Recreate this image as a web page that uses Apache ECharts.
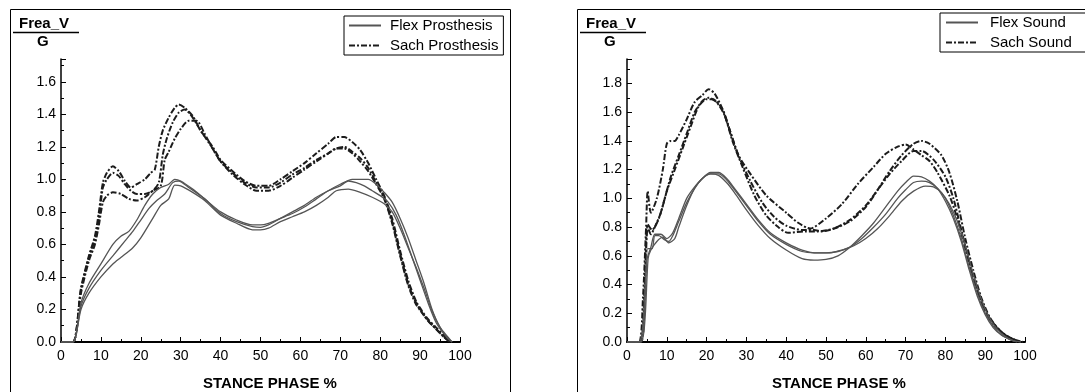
<!DOCTYPE html>
<html>
<head>
<meta charset="utf-8">
<script src="https://cdn.jsdelivr.net/npm/echarts@6/dist/echarts.min.js"></script>
<style>html,body{margin:0;padding:0;background:#fff}#c{width:1085px;height:392px}</style>
</head>
<body>
<div id="c"></div>
<script>
// ---- Data: [stance phase %, Frea_V / G] ----
const xTicks = [0,10,20,30,40,50,60,70,80,90,100];

const flexProsthesis1 = [[0,0],[3,0],[5,0.24],[7,0.36],[10,0.48],[13,0.6],[15,0.65],[17,0.68],[19,0.75],[21,0.84],[23,0.91],[25,0.95],[27,0.97],[28.5,1.0],[30,0.99],[33,0.94],[36,0.88],[40,0.8],[44,0.75],[48,0.72],[50,0.72],[52,0.73],[55,0.76],[58,0.79],[61,0.83],[64,0.88],[67,0.93],[70,0.97],[73,1.0],[75,1.0],[77,1.0],[79,0.97],[81,0.92],[83,0.86],[85,0.76],[87,0.64],[89,0.5],[91,0.36],[93,0.2],[95,0.09],[97,0.03],[98,0]];
const flexProsthesis2 = [[0,0],[3,0],[5,0.22],[7,0.33],[10,0.44],[13,0.53],[16,0.62],[18,0.68],[20,0.75],[22,0.82],[24,0.87],[26,0.91],[28,0.98],[29.5,0.99],[32,0.95],[36,0.88],[40,0.79],[44,0.74],[48,0.71],[50,0.705],[52,0.72],[55,0.76],[58,0.8],[61,0.84],[64,0.89],[67,0.93],[70,0.96],[72,0.99],[74,0.98],[76,0.96],[78,0.93],[80,0.9],[82,0.86],[84,0.78],[86,0.66],[88,0.52],[90,0.38],[92,0.24],[94,0.12],[96,0.05],[98,0]];
const flexProsthesis3 = [[0,0],[3,0],[5,0.2],[7,0.3],[10,0.4],[13,0.48],[15,0.52],[18,0.58],[20,0.64],[23,0.76],[25,0.84],[27,0.88],[28.5,0.965],[30,0.96],[33,0.92],[36,0.87],[40,0.78],[44,0.73],[48,0.69],[50,0.69],[52,0.7],[55,0.74],[58,0.77],[61,0.8],[64,0.84],[67,0.89],[69,0.93],[72,0.94],[75,0.92],[78,0.89],[81,0.85],[83,0.8],[85,0.7],[87,0.58],[89,0.46],[91,0.33],[93,0.19],[95,0.09],[97,0.02],[98,0]];

const sachProsthesis1 = [[0,0],[3,0],[5,0.33],[7,0.53],[8.5,0.65],[9.5,0.8],[10.5,0.98],[11.5,1.04],[13,1.08],[14.5,1.05],[16,0.99],[17.5,0.95],[19,0.97],[21,1.0],[22.5,1.04],[23.5,1.06],[24.5,1.2],[25.5,1.3],[27,1.38],[28.5,1.44],[29.5,1.46],[31,1.44],[33,1.39],[35,1.3],[38,1.2],[40,1.12],[43,1.05],[46,0.99],[49,0.96],[52,0.96],[55,1.0],[58,1.05],[61,1.1],[64,1.16],[67,1.22],[69,1.26],[71,1.26],[73,1.23],[75,1.18],[77,1.1],[79,1.0],[81,0.9],[83,0.76],[85,0.56],[87,0.38],[89,0.25],[90.5,0.19],[92,0.14],[94,0.09],[96,0.04],[97.5,0]];
const sachProsthesis2 = [[0,0],[3,0],[5,0.32],[7,0.52],[8.5,0.63],[9.5,0.76],[10.5,0.95],[11.5,1.0],[13,1.04],[14.5,1.02],[16,0.97],[17.5,0.93],[19,0.91],[21,0.91],[23,0.93],[24.5,0.98],[25.5,1.15],[26.5,1.25],[28,1.35],[29.5,1.41],[31,1.43],[33,1.38],[35,1.3],[38,1.19],[40,1.11],[43,1.04],[46,0.98],[49,0.95],[52,0.95],[55,0.98],[58,1.03],[61,1.07],[64,1.12],[67,1.16],[69,1.19],[71,1.2],[73,1.17],[75,1.13],[77,1.07],[79,0.98],[81,0.89],[83,0.74],[85,0.54],[87,0.36],[89,0.24],[90.5,0.18],[92,0.13],[94,0.08],[96,0.03],[97.5,0]];
const sachProsthesis3 = [[0,0],[3,0],[5,0.3],[7,0.5],[8.5,0.6],[9.5,0.72],[10.5,0.86],[11.5,0.9],[13,0.92],[15,0.91],[17,0.88],[19,0.87],[21,0.89],[23,0.93],[25,0.96],[26,1.12],[27,1.17],[28.5,1.25],[30,1.31],[32,1.36],[34,1.36],[36,1.28],[38,1.19],[40,1.11],[43,1.03],[46,0.97],[49,0.93],[52,0.93],[55,0.96],[58,1.01],[61,1.06],[64,1.11],[67,1.16],[69,1.19],[71,1.19],[73,1.16],[75,1.11],[77,1.05],[79,0.97],[81,0.88],[83,0.73],[85,0.53],[87,0.35],[89,0.23],[90.5,0.18],[92,0.13],[94,0.08],[96,0.03],[97.5,0]];

const flexSound1 = [[0,0],[3,0],[4,0.12],[5,0.57],[6,0.66],[7,0.75],[8.5,0.75],[10,0.72],[11.5,0.76],[13,0.86],[15,1.0],[17,1.08],[19,1.14],[21,1.17],[23,1.16],[25,1.11],[27,1.04],[30,0.92],[33,0.81],[36,0.72],[40,0.64],[44,0.58],[47,0.57],[50,0.575],[53,0.6],[56,0.66],[59,0.74],[62,0.83],[65,0.94],[68,1.05],[70,1.11],[72,1.155],[74,1.15],[76,1.12],[78,1.07],[80,0.98],[82,0.86],[84,0.7],[86,0.5],[88,0.32],[90,0.19],[92,0.1],[94,0.05],[96,0.02],[98,0]];
const flexSound2 = [[0,0],[3.3,0],[4.3,0.15],[5.2,0.65],[6.3,0.65],[7,0.74],[8,0.74],[9.5,0.71],[10.5,0.7],[11.5,0.74],[13,0.84],[15,0.97],[17,1.07],[19,1.14],[21,1.17],[23,1.17],[25,1.13],[27,1.06],[30,0.95],[33,0.84],[36,0.75],[40,0.68],[44,0.63],[47,0.62],[50,0.62],[53,0.63],[56,0.66],[59,0.72],[62,0.8],[65,0.89],[68,1.0],[70,1.06],[72,1.11],[74,1.12],[76,1.11],[78,1.07],[80,1.0],[82,0.88],[84,0.72],[86,0.52],[88,0.34],[90,0.2],[92,0.11],[94,0.05],[96,0.02],[98,0]];
const flexSound3 = [[0,0],[3.5,0],[4.5,0.15],[5.3,0.58],[6,0.64],[7.5,0.7],[9,0.73],[10.5,0.69],[12,0.72],[13,0.8],[15,0.95],[17,1.07],[19,1.14],[21,1.18],[23,1.18],[25,1.14],[27,1.07],[30,0.96],[33,0.85],[36,0.76],[40,0.69],[44,0.64],[48,0.62],[51,0.62],[54,0.64],[57,0.67],[60,0.72],[63,0.79],[66,0.88],[69,0.98],[72,1.05],[75,1.085],[77,1.08],[79,1.04],[81,0.96],[83,0.84],[85,0.67],[87,0.47],[89,0.3],[91,0.17],[93,0.09],[95,0.04],[97,0.01],[99,0]];

const sachSound1 = [[0,0],[3,0],[4,0.3],[4.8,0.8],[5.2,1.05],[6,0.9],[7.5,1.0],[9,1.2],[10,1.38],[11,1.4],[12,1.4],[13,1.44],[15,1.55],[17,1.67],[19,1.72],[20.5,1.76],[22,1.73],[24,1.62],[25.5,1.5],[28,1.3],[31,1.17],[35,1.02],[40,0.9],[43,0.83],[46,0.79],[50,0.86],[54,0.96],[58,1.1],[62,1.22],[65,1.31],[68,1.36],[70,1.375],[72,1.34],[74,1.3],[76,1.26],[78,1.18],[81,1.02],[83,0.86],[85,0.65],[87,0.45],[89,0.28],[91,0.17],[93,0.1],[95,0.05],[97,0.02],[99,0]];
const sachSound2 = [[0,0],[3.3,0],[4.3,0.3],[5.2,0.82],[6.3,0.78],[8,0.86],[9.5,1.0],[11,1.15],[13,1.3],[15,1.45],[17,1.6],[19,1.68],[20.5,1.7],[22.5,1.67],[24.5,1.58],[26.5,1.4],[29,1.22],[32,1.02],[35,0.88],[38,0.8],[40.5,0.76],[45,0.77],[48,0.77],[52,0.79],[56,0.84],[60,0.94],[63,1.06],[66,1.19],[69,1.3],[72,1.38],[74,1.4],[76,1.38],[79,1.3],[81,1.18],[83,0.98],[85,0.72],[87,0.5],[89,0.31],[91,0.18],[93,0.1],[95,0.05],[97,0.02],[99,0]];
const sachSound3 = [[0,0],[3.5,0],[4.4,0.3],[5.2,0.8],[6,0.75],[7,0.8],[8.5,0.9],[10,1.05],[12,1.2],[14,1.35],[16,1.5],[18,1.64],[20,1.69],[21.5,1.69],[24,1.62],[26,1.46],[28,1.3],[31,1.12],[34,0.97],[37,0.87],[40,0.81],[44,0.78],[47,0.78],[49,0.77],[52,0.79],[56,0.85],[60,0.95],[63,1.06],[66,1.17],[69,1.26],[72,1.33],[74,1.33],[77,1.27],[80,1.15],[82,1.0],[84,0.78],[86,0.56],[88,0.37],[90,0.22],[92,0.12],[94,0.07],[96,0.03],[98,0.01],[99.5,0]];

const yTicksLeft = [0,0.2,0.4,0.6,0.8,1.0,1.2,1.4,1.6];
const yTicksRight = [0,0.2,0.4,0.6,0.8,1.0,1.2,1.4,1.6,1.8];

// ---- chart ----
const FONT = 'Arial, "Liberation Sans", sans-serif';
const solid = {color:'#555', width:1.3, type:'solid'};
const dashDot = {color:'#1c1c1c', width:2, type:[6,2,2,2]};

function ser(name, data, style, idx){
  return {type:'line', name, data, xAxisIndex:idx, yAxisIndex:idx, symbol:'none', smooth:0.25,
    lineStyle:style, itemStyle:{color:style.color}, emphasis:{disabled:true}, silent:true, z: style===solid?3:2};
}
function xAx(idx){
  return {type:'value', gridIndex:idx, min:0, max:100, interval:10,
    axisLine:{show:true, onZero:false, lineStyle:{color:'#000', width:2}},
    axisTick:{show:true, inside:true, length:5, lineStyle:{color:'#000', width:1}},
    minorTick:{show:true, splitNumber:2, length:3, lineStyle:{color:'#000'}},
    splitLine:{show:false},
    axisLabel:{color:'#000', fontSize:14, fontFamily:FONT, margin:7,
      formatter:v=>xTicks.includes(v)?String(v):''}};
}
function yAx(idx, max, ticks){
  return {type:'value', gridIndex:idx, min:0, max, interval:0.2,
    axisLine:{show:true, lineStyle:{color:'#000', width:1.5}},
    axisTick:{show:true, inside:true, length:5, lineStyle:{color:'#000', width:1}},
    minorTick:{show:true, splitNumber:2, length:3, lineStyle:{color:'#000'}},
    splitLine:{show:false},
    axisLabel:{color:'#000', fontSize:14, fontFamily:FONT, margin:5, showMaxLabel:false,
      formatter:v=>{const m=ticks.find(t=>Math.abs(t-v)<1e-6);return m===undefined?'':m.toFixed(1);}}};
}
function legend(left, top, names, pad, textPad){
  return {show:true, orient:'vertical', left, top, data:names, itemWidth:32, itemHeight:14, itemGap:5,
    padding:pad, borderColor:'#000', borderWidth:1, borderRadius:0, backgroundColor:'#fff',
    itemStyle:{opacity:0, borderWidth:0},
    textStyle:{color:'#000', fontSize:15, fontFamily:FONT, padding:[0,0,0,textPad]}, selectedMode:false};
}
function fracTitle(x0, cx){
  return [
    {type:'text', left:cx-27, top:16, style:{text:'Frea_V', font:'bold 15px '+FONT, fill:'#000'}},
    {type:'line', shape:{x1:x0, y1:32.5, x2:x0+66, y2:32.5}, style:{stroke:'#000', lineWidth:1.5}},
    {type:'text', left:cx-9, top:34, style:{text:'G', font:'bold 15px '+FONT, fill:'#000'}}
  ];
}

const chart = echarts.init(document.getElementById('c'), null, {renderer:'canvas'});
chart.setOption({
  animation:false,
  backgroundColor:'#fff',
  grid:[
    {left:61, right:625, top:59, bottom:50},
    {left:627, right:60, top:59, bottom:50}
  ],
  xAxis:[xAx(0), xAx(1)],
  yAxis:[yAx(0, 1.74, yTicksLeft), yAx(1, 1.97, yTicksRight)],
  legend:[
    legend(344, 16, ['Flex Prosthesis','Sach Prosthesis'], [2,5,2,4], 4),
    legend(940, 13, ['Flex Sound','Sach Sound'], [2,40,2,5], 7)
  ],
  graphic:[
    {type:'rect', shape:{x:10.5, y:9.5, width:500, height:400}, style:{fill:'none', stroke:'#000', lineWidth:1}, z:-1},
    {type:'rect', shape:{x:577.5, y:9.5, width:540, height:400}, style:{fill:'none', stroke:'#000', lineWidth:1}, z:-1},
    ...fracTitle(13, 46),
    ...fracTitle(580, 613),
    {type:'text', left:203, top:376, style:{text:'STANCE PHASE %', font:'bold 15px '+FONT, fill:'#000'}},
    {type:'text', left:772, top:376, style:{text:'STANCE PHASE %', font:'bold 15px '+FONT, fill:'#000'}}
  ],
  series:[
    ser('Flex Prosthesis', flexProsthesis1, solid, 0),
    ser('Flex Prosthesis', flexProsthesis2, solid, 0),
    ser('Flex Prosthesis', flexProsthesis3, solid, 0),
    ser('Sach Prosthesis', sachProsthesis1, dashDot, 0),
    ser('Sach Prosthesis', sachProsthesis2, dashDot, 0),
    ser('Sach Prosthesis', sachProsthesis3, dashDot, 0),
    ser('Flex Sound', flexSound1, solid, 1),
    ser('Flex Sound', flexSound2, solid, 1),
    ser('Flex Sound', flexSound3, solid, 1),
    ser('Sach Sound', sachSound1, dashDot, 1),
    ser('Sach Sound', sachSound2, dashDot, 1),
    ser('Sach Sound', sachSound3, dashDot, 1)
  ]
});
</script>
</body>
</html>
